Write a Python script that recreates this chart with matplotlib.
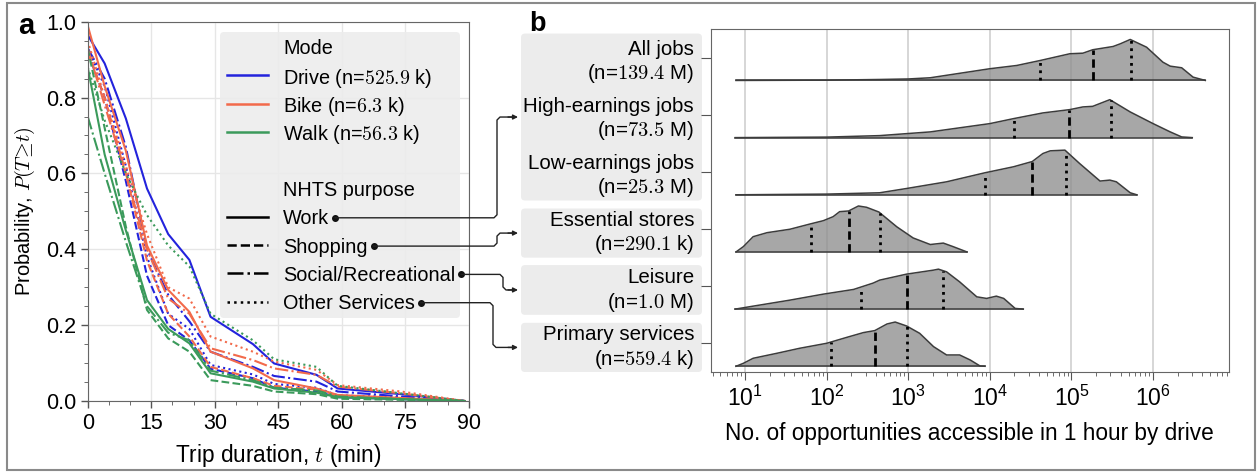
import numpy as np
import matplotlib
matplotlib.use("Agg")
import matplotlib.pyplot as plt
from matplotlib.lines import Line2D
from matplotlib.patches import Rectangle, FancyBboxPatch
from matplotlib.transforms import IdentityTransform

plt.rcParams['font.family'] = ['Liberation Sans', 'DejaVu Sans']
plt.rcParams['mathtext.fontset'] = 'cm'

# ---------------- panel a data: survival curves P(T >= t) ----------------
t = [0, 4, 9, 14, 19, 24, 29, 39, 44, 54, 59, 74, 89]

drive_work = [0.965, 0.89, 0.745, 0.56, 0.44, 0.372, 0.222, 0.15, 0.099, 0.069, 0.033, 0.018, 0.0]
drive_shop = [0.92, 0.80, 0.58, 0.33, 0.20, 0.16, 0.085, 0.06, 0.035, 0.025, 0.01, 0.005, 0.0]
drive_social = [0.93, 0.85, 0.67, 0.40, 0.28, 0.21, 0.13, 0.09, 0.066, 0.051, 0.025, 0.012, 0.0]
drive_other = [0.93, 0.83, 0.62, 0.38, 0.23, 0.19, 0.095, 0.07, 0.045, 0.035, 0.015, 0.01, 0.0]

bike_work = [0.99, 0.83, 0.66, 0.41, 0.293, 0.235, 0.13, 0.086, 0.055, 0.033, 0.016, 0.008, 0.0]
bike_shop = [0.92, 0.80, 0.60, 0.37, 0.23, 0.17, 0.09, 0.06, 0.04, 0.03, 0.012, 0.006, 0.0]
bike_social = [0.93, 0.78, 0.60, 0.40, 0.27, 0.23, 0.139, 0.108, 0.086, 0.069, 0.038, 0.02, 0.0]
bike_other = [0.95, 0.80, 0.62, 0.44, 0.30, 0.27, 0.17, 0.13, 0.104, 0.082, 0.042, 0.025, 0.0]

walk_work = [0.88, 0.65, 0.45, 0.266, 0.19, 0.152, 0.073, 0.051, 0.033, 0.022, 0.01, 0.005, 0.0]
walk_shop = [0.93, 0.72, 0.46, 0.24, 0.165, 0.13, 0.055, 0.04, 0.025, 0.018, 0.006, 0.003, 0.0]
walk_social = [0.75, 0.60, 0.42, 0.25, 0.18, 0.16, 0.08, 0.055, 0.035, 0.028, 0.012, 0.005, 0.0]
walk_other = [0.88, 0.74, 0.60, 0.49, 0.41, 0.355, 0.23, 0.16, 0.11, 0.09, 0.04, 0.02, 0.0]

modes = ['Drive', 'Bike', 'Walk']
mode_n = ['525.9', '6.3', '56.3']
purposes = ['Work', 'Shopping', 'Social/Recreational', 'Other Services']
curves = {
    'Drive': [drive_work, drive_shop, drive_social, drive_other],
    'Bike': [bike_work, bike_shop, bike_social, bike_other],
    'Walk': [walk_work, walk_shop, walk_social, walk_other],
}

# ---------------- panel b data: ridge densities on log10 scale ----------------
ridge_names = ['All jobs', 'High-earnings jobs', 'Low-earnings jobs',
               'Essential stores', 'Leisure', 'Primary services']
ridge_n = ['139.4 M', '73.5 M', '25.3 M', '290.1 k', '1.0 M', '559.4 k']

all_logx = [0.89, 2.0, 2.65, 3.0, 3.27, 4.0, 4.33, 4.62, 4.98, 5.14, 5.26, 5.51, 5.6, 5.72, 5.92, 6.12, 6.21, 6.35, 6.49, 6.64]
all_dens = [0, .005, .017, .026, .047, .205, .262, .35, .467, .477, .537, .594, .642, .717, .582, .32, .25, .222, .058, 0]
high_logx = [0.88, 2.0, 2.65, 3.27, 4.0, 4.29, 4.65, 4.98, 5.14, 5.26, 5.47, 5.72, 6.0, 6.21, 6.35, 6.48]
high_dens = [0, .009, .035, .1, .245, .332, .432, .49, .537, .547, .664, .449, .245, .1, .012, 0]
low_logx = [0.89, 2.0, 2.65, 2.98, 3.47, 3.94, 4.29, 4.52, 4.65, 4.74, 4.92, 5.1, 5.35, 5.47, 5.55, 5.72, 5.8]
low_dens = [0, .012, .035, .11, .227, .385, .49, .582, .722, .769, .781, .547, .24, .257, .227, .035, 0]
ess_logx = [0.89, 0.98, 1.10, 1.27, 1.55, 1.80, 1.96, 2.08, 2.16, 2.27, 2.39, 2.49, 2.64, 2.86, 3.06, 3.27, 3.43, 3.55, 3.72]
ess_dens = [0, .093, .267, .337, .397, .49, .547, .617, .705, .717, .804, .781, .699, .44, .245, .13, .155, .093, 0]
leis_logx = [0.88, 1.10, 1.55, 1.96, 2.33, 2.57, 2.65, 2.98, 3.31, 3.37, 3.47, 3.63, 3.84, 3.96, 4.08, 4.17, 4.31, 4.41]
leis_dens = [0, .052, .157, .262, .344, .455, .507, .612, .682, .699, .652, .477, .215, .187, .227, .187, .012, 0]
prim_logx = [0.89, 0.98, 1.10, 1.39, 1.67, 2.0, 2.25, 2.45, 2.59, 2.74, 2.84, 2.98, 3.14, 3.31, 3.47, 3.63, 3.76, 3.88, 3.94]
prim_dens = [0, .052, .14, .227, .315, .402, .507, .589, .624, .74, .774, .705, .577, .344, .198, .198, .11, .005, 0]

ridge_logx = [all_logx, high_logx, low_logx, ess_logx, leis_logx, prim_logx]
ridge_dens = [all_dens, high_dens, low_dens, ess_dens, leis_dens, prim_dens]
# quartiles (log10): q25, median, q75
ridge_quart = [[4.62, 5.26, 5.73], [4.29, 4.97, 5.48], [3.94, 4.52, 4.93],
               [1.81, 2.27, 2.65], [2.42, 2.99, 3.43], [2.05, 2.59, 2.99]]

# ---------------- figure ----------------
W, H = 1258, 472
fig = plt.figure(figsize=(W / 100, H / 100), dpi=100)
ID = IdentityTransform()

colors = {'Drive': '#2323dc', 'Bike': '#f26a4b', 'Walk': '#3b9a5b'}
styles = ['-', '--', '-.', ':']

ax1 = fig.add_axes([87.7 / W, 1 - 401 / H, (469 - 87.7) / W, (401 - 21.7) / H])
for m in modes:
    for ls, y in zip(styles, curves[m]):
        ax1.plot(t, y, color=colors[m], ls=ls, lw=1.5)
ax1.set_xlim(0, 90)
ax1.set_ylim(0, 1)
ax1.set_xticks([0, 15, 30, 45, 60, 75, 90])
ax1.set_xticks(np.arange(0, 91, 5), minor=True)
ax1.set_yticks([0, 0.2, 0.4, 0.6, 0.8, 1.0])
ax1.set_yticks(np.arange(0, 1.01, 0.05), minor=True)
ax1.grid(True, which='major', color='#e6e6e6', lw=1)
ax1.tick_params(labelsize=15.5, direction='out', length=5, color='#555', width=1)
ax1.tick_params(which='minor', length=3, color='#555')
for s in ax1.spines.values():
    s.set_color('#666')
ax1.set_xlabel('Trip duration, $t$ (min)', fontsize=16.3, labelpad=6)
ax1.set_ylabel(r'Probability, $P(T\!\geq\! t)$', fontsize=14.5, labelpad=6)

# manual legend, row positions in figure pixels measured from the top
bx0, by0, bx1, by1 = 220, 32, 460, 318
fig.add_artist(FancyBboxPatch((bx0, H - by1), bx1 - bx0, by1 - by0,
                              boxstyle='round,pad=0,rounding_size=4', transform=ID,
                              facecolor='#ececec', alpha=0.88, edgecolor='none', zorder=2))
row_y = [47 + 28.3 * k for k in range(10)]
leg_fs = 14.3
entries = [('Mode', None, None)]
for m, n in zip(modes, mode_n):
    entries.append((m + ' (n=$' + n + '$ k)', colors[m], '-'))
entries.append((None, None, None))
entries.append(('NHTS purpose', None, None))
for ls, p in zip(styles, purposes):
    entries.append((p, 'black', ls))
purpose_rows = []
for (lab, c, ls), ry in zip(entries, row_y):
    if lab is None:
        continue
    if c is not None:
        fig.add_artist(Line2D([227, 268], [H - ry, H - ry], color=c, ls=ls, lw=1.8,
                              transform=ID, zorder=3))
    tx = fig.text(283, H - ry, lab, transform=ID, fontsize=leg_fs, va='center_baseline',
                  ha='left', zorder=3)
    if c == 'black':
        purpose_rows.append((tx, ry))

# panel b
ax2 = fig.add_axes([710.7 / W, 1 - 372 / H, (1229 - 710.7) / W, (372 - 29) / H])
nr = len(ridge_names)
for i in range(nr):
    base = nr - 1 - i + 0.1
    lx = np.array(ridge_logx[i])
    d = np.array(ridge_dens[i])
    x = 10 ** lx
    ax2.fill_between(x, base, base + d, color='#8f8f8f', alpha=0.78, lw=0, zorder=2)
    ax2.plot(x, base + d, color='#3c3c3c', lw=1.1, zorder=3)
    ax2.plot([x[0], x[-1]], [base, base], color='#3c3c3c', lw=1.1, zorder=3)
    for q, ls in zip(ridge_quart[i], [':', (0, (3, 1.6)), ':']):
        h = np.interp(q, lx, d)
        ax2.plot([10 ** q, 10 ** q], [base, base + h], color='black', ls=ls, lw=2, zorder=4)
ax2.set_xscale('log')
ax2.set_xlim(10 ** 0.58, 10 ** 6.93)
ax2.set_ylim(0, nr)
ax2.set_xticks([10 ** k for k in range(1, 7)])
ax2.set_yticks([nr - 1 - i + 0.5 for i in range(nr)])
ax2.set_yticklabels([nm + '\n(n=$' + n.split()[0] + '$ ' + n.split()[1] + ')'
                     for nm, n in zip(ridge_names, ridge_n)], ha='right', ma='right')
ax2.grid(True, axis='x', which='major', color='#cfcfcf', lw=1.2, zorder=1)
ax2.set_axisbelow(True)
ax2.tick_params(axis='y', labelsize=14.8, length=7, pad=5, color='#555')
ax2.tick_params(axis='x', labelsize=16.5, length=6, color='#555', pad=4)
ax2.tick_params(axis='x', which='minor', length=3, color='#555')
for s in ax2.spines.values():
    s.set_color('#666')
ax2.set_xlabel('No. of opportunities accessible in 1 hour by drive', fontsize=16.3, labelpad=8)


def to_px(yd):
    return ax2.transData.transform((1, yd))[1]


# grey boxes behind panel b tick labels
box_spans = [(3.0, 5.92), (2.0, 2.86), (1.0, 1.87), (0.0, 0.86)]
for y0, y1 in box_spans:
    p0, p1 = to_px(y0), to_px(y1)
    fig.add_artist(FancyBboxPatch((521, p0), 181, p1 - p0, boxstyle='round,pad=0,rounding_size=4',
                                  transform=ID, facecolor='#ececec', edgecolor='none', zorder=-1))

# connectors from legend entries to label boxes
fig.canvas.draw()
rend = fig.canvas.get_renderer()
targets = [(3.0 + 5.92) / 2, 2.43, 1.435, 0.43]
x_vert = [497, 497, 503, 493]
for (txt, ry), ty, xv in zip(purpose_rows, targets, x_vert):
    bb = txt.get_window_extent(rend)
    xd = bb.x1 + 6
    yd = H - ry - 1
    yt = to_px(ty)
    sg = np.sign(yt - yd)
    fig.add_artist(Line2D([xd], [yd], marker='o', ms=4, color='#111', transform=ID, zorder=5))
    fig.add_artist(Line2D([xd, xv - 3, xv, xv, xv + 3, 512], [yd, yd, yd + 3 * sg, yt - 3 * sg, yt, yt],
                          color='#222', lw=1, transform=ID, zorder=5))
    ax2.annotate('', xy=(518, yt), xytext=(508, yt), xycoords='figure pixels', textcoords='figure pixels',
                 arrowprops=dict(arrowstyle='-|>', color='#222', lw=1, mutation_scale=7, shrinkA=0, shrinkB=0),
                 annotation_clip=False)

fig.text(26 / W, 1 - 26 / H, 'a', fontsize=21, fontweight='bold', ha='center', va='center')
fig.text(537 / W, 1 - 24 / H, 'b', fontsize=19.5, fontweight='bold', ha='center', va='center')
fig.add_artist(Rectangle((7, H - 470), 1248, 467, transform=ID, fill=False,
                         edgecolor='#8a8a8a', lw=1.5))

fig.savefig('out.png', dpi=100)
